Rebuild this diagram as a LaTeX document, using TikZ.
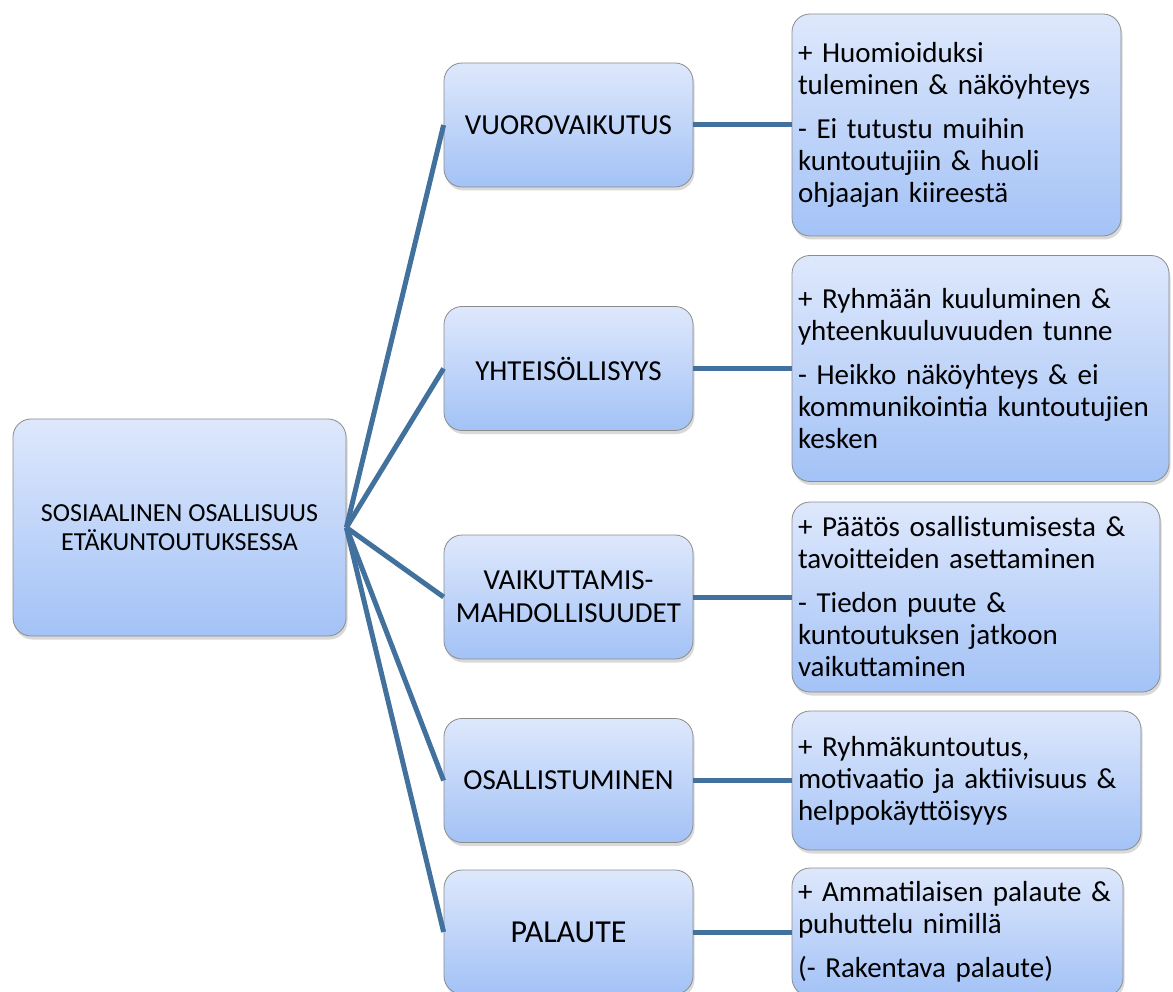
\documentclass[tikz,border=0pt]{standalone}
\usepackage{fontspec}
\setmainfont{Carlito}
\usetikzlibrary{shadows}
\definecolor{topc}{HTML}{DEE8FC}
\definecolor{botc}{HTML}{A3C2F6}
\definecolor{linec}{HTML}{41719C}
\tikzset{
  box/.style={rounded corners=18pt, draw=black!45, line width=0.8pt,
    top color=topc, bottom color=botc,
    drop shadow={opacity=0.3, shadow xshift=1.5pt, shadow yshift=-3.5pt}},
  lone/.style={box, minimum width=249pt, minimum height=124pt, inner sep=2pt,
    align=center, font=\fontsize{29}{33}\selectfont},
  rb/.style={box, inner sep=6pt, align=left, font=\fontsize{29}{32}\selectfont},
  con/.style={draw=linec, line width=5pt}
}
\begin{document}
\begin{tikzpicture}[x=1pt,y=-1pt]
\useasboundingbox (0,0) rectangle (1173,992);
% root
\node[box, minimum width=333pt, minimum height=217pt, align=center,
  font=\fontsize{26}{29}\selectfont] (root) at (179.5,527.5)
  {SOSIAALINEN OSALLISUUS\\ETÄKUNTOUTUKSESSA};
% level one
\node[lone] (v) at (568.5,125) {VUOROVAIKUTUS};
\node[lone] (y) at (568.5,368.5) {YHTEISÖLLISYYS};
\node[lone] (k) at (568.5,597) {VAIKUTTAMIS-\\MAHDOLLISUUDET};
\node[lone] (o) at (568.5,780.5) {OSALLISTUMINEN};
\node[lone, font=\fontsize{32}{36}\selectfont] (p) at (568.5,932) {PALAUTE};
% right boxes
\node[rb, text width=317pt, minimum height=222pt] (b1) at (956.5,125)
  {+ Huomioiduksi\\tuleminen \& näköyhteys\\[12pt]- Ei tutustu muihin\\kuntoutujiin \& huoli\\ohjaajan kiireestä};
\node[rb, text width=365pt, minimum height=226pt] (b2) at (980.5,368.5)
  {+ Ryhmään kuuluminen \&\\yhteenkuuluvuuden tunne\\[12pt]- Heikko näköyhteys \& ei\\kommunikointia kuntoutujien\\kesken};
\node[rb, text width=356pt, minimum height=190pt] (b3) at (976,597)
  {+ Päätös osallistumisesta \&\\tavoitteiden asettaminen\\[12pt]- Tiedon puute \&\\kuntoutuksen jatkoon\\vaikuttaminen};
\node[rb, text width=337pt, minimum height=139pt] (b4) at (966.5,780.5)
  {+ Ryhmäkuntoutus,\\motivaatio ja aktiivisuus \&\\helppokäyttöisyys};
\node[rb, text width=319pt, minimum height=128pt] (b5) at (957.5,932)
  {+ Ammatilaisen palaute \&\\puhuttelu nimillä\\[12pt](- Rakentava palaute)};
% connectors
\foreach \n in {v,y,k,o,p} \draw[con] (root.east) -- (\n.west);
\draw[con] (v.east) -- (b1.west);
\draw[con] (y.east) -- (b2.west);
\draw[con] (k.east) -- (b3.west);
\draw[con] (o.east) -- (b4.west);
\draw[con] (p.east) -- (b5.west);
\end{tikzpicture}
\end{document}
